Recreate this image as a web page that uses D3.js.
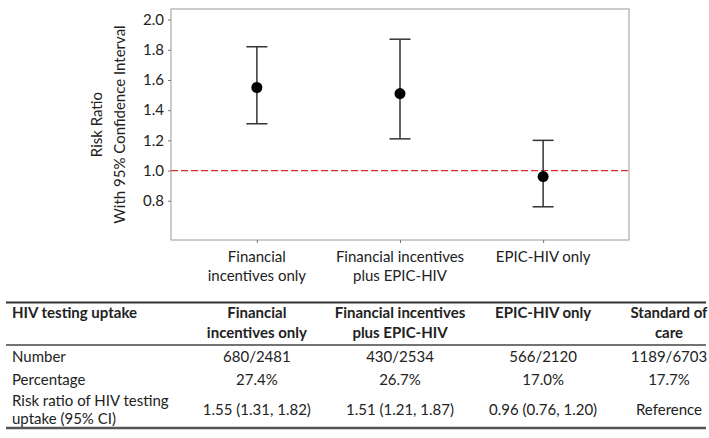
<!DOCTYPE html>
<meta charset="utf-8">
<head>
    <script type="text/javascript" src="https://cdn.jsdelivr.net/npm/d3@7"></script>
    <style>
        body { margin: 0; background: #fff; }
        svg text { font-family: Lato, "Open Sans", sans-serif; fill: #222; }
        .hdr { font-weight: bold; }
    </style>
</head>
<body>
<div id="chart"></div>
<script>

    // chart data
    let categories = ["Financial incentives only", "Financial incentives plus EPIC-HIV", "EPIC-HIV only"]
    let categoryLines = [["Financial", "incentives only"], ["Financial incentives", "plus EPIC-HIV"], ["EPIC-HIV only"]]
    let estimate = [1.55, 1.51, 0.96]
    let lower = [1.31, 1.21, 0.76]
    let upper = [1.82, 1.87, 1.20]
    let yTicks = [0.8, 1.0, 1.2, 1.4, 1.6, 1.8, 2.0]
    let refLine = 1.0

    // table data
    let tableHeaders = [["HIV testing uptake"], ["Financial", "incentives only"], ["Financial incentives", "plus EPIC-HIV"], ["EPIC-HIV only"], ["Standard of", "care"]]
    let numberRow = ["680/2481", "430/2534", "566/2120", "1189/6703"]
    let percentRow = ["27.4%", "26.7%", "17.0%", "17.7%"]
    let riskRow = ["1.55 (1.31, 1.82)", "1.51 (1.21, 1.87)", "0.96 (0.76, 1.20)", "Reference"]
    let rowLabels = [["Number"], ["Percentage"], ["Risk ratio of HIV testing", "uptake (95% CI)"]]

    let width = 709
    let height = 438

    let plot = {left: 171, right: 629, top: 9, bottom: 240}

    let svg = d3.select("#chart")
        .append("svg")
        .attr("width", width)
        .attr("height", height)

    let x = d3.scalePoint()
        .domain(categories)
        .range([plot.left, plot.right])
        .padding(0.6)

    let y = d3.scaleLinear()
        .domain([0.54, 2.07])
        .range([plot.bottom, plot.top])

    // frame
    svg.append("rect")
        .attr("x", plot.left)
        .attr("y", plot.top)
        .attr("width", plot.right - plot.left)
        .attr("height", plot.bottom - plot.top)
        .attr("fill", "none")
        .attr("stroke", "#9a9a9a")
        .attr("stroke-width", 1)

    // y axis
    let yAxis = svg.append("g")
        .attr("transform", "translate(" + plot.left + ",0)")
        .call(d3.axisLeft(y).tickValues(yTicks).tickFormat(d3.format(".1f")).tickSize(3).tickPadding(4))
    yAxis.select(".domain").remove()
    yAxis.selectAll("line").attr("stroke", "#777")
    yAxis.selectAll("text").style("font-size", "15px").attr("fill", "#222")

    // x axis ticks
    let xAxis = svg.append("g")
        .attr("transform", "translate(0," + plot.bottom + ")")
        .call(d3.axisBottom(x).tickSize(3).tickFormat(""))
    xAxis.select(".domain").remove()
    xAxis.selectAll("line").attr("stroke", "#777")

    categories.forEach(function (c, i) {
        categoryLines[i].forEach(function (line, j) {
            svg.append("text")
                .attr("x", x(c))
                .attr("y", 262 + j * 19)
                .attr("text-anchor", "middle")
                .style("font-size", "15px")
                .text(line)
        })
    })

    // y label
    let ylab = svg.append("text")
        .attr("transform", "translate(0," + ((plot.top + plot.bottom) / 2) + ") rotate(-90)")
        .attr("text-anchor", "middle")
        .style("font-size", "15px")
    ylab.append("tspan").attr("x", 0).attr("y", 102).text("Risk Ratio")
    ylab.append("tspan").attr("x", 0).attr("y", 125).text("With 95% Confidence Interval")

    // reference line
    svg.append("line")
        .attr("x1", plot.left)
        .attr("x2", plot.right)
        .attr("y1", y(refLine))
        .attr("y2", y(refLine))
        .attr("stroke", "#e0252b")
        .attr("stroke-width", 1.3)
        .attr("stroke-dasharray", "7,3")

    // error bars
    let bars = svg.append("g")
        .selectAll("g")
        .data(categories)
        .enter()
        .append("g")

    bars.append("line")
        .attr("x1", d => x(d)).attr("x2", d => x(d))
        .attr("y1", (d, i) => y(upper[i]))
        .attr("y2", (d, i) => y(lower[i]))
        .attr("stroke", "#333").attr("stroke-width", 1.5)

    bars.append("line")
        .attr("x1", d => x(d) - 10.5).attr("x2", d => x(d) + 10.5)
        .attr("y1", (d, i) => y(upper[i])).attr("y2", (d, i) => y(upper[i]))
        .attr("stroke", "#333").attr("stroke-width", 1.5)

    bars.append("line")
        .attr("x1", d => x(d) - 10.5).attr("x2", d => x(d) + 10.5)
        .attr("y1", (d, i) => y(lower[i])).attr("y2", (d, i) => y(lower[i]))
        .attr("stroke", "#333").attr("stroke-width", 1.5)

    bars.append("circle")
        .attr("cx", d => x(d))
        .attr("cy", (d, i) => y(estimate[i]))
        .attr("r", 5.5)
        .attr("fill", "#000")

    // table
    let colX = [12, x(categories[0]), x(categories[1]), x(categories[2]), 669]
    let tbl = svg.append("g")

    tbl.append("line").attr("x1", 6).attr("x2", 706).attr("y1", 302.5).attr("y2", 302.5)
        .attr("stroke", "#333").attr("stroke-width", 2)
    tbl.append("line").attr("x1", 6).attr("x2", 706).attr("y1", 345).attr("y2", 345)
        .attr("stroke", "#444").attr("stroke-width", 1.5)
    tbl.append("line").attr("x1", 6).attr("x2", 706).attr("y1", 428).attr("y2", 428)
        .attr("stroke", "#555").attr("stroke-width", 2.5)

    tableHeaders.forEach(function (h, i) {
        h.forEach(function (line, j) {
            tbl.append("text")
                .attr("class", "hdr")
                .attr("x", colX[i])
                .attr("y", 318 + j * 20)
                .attr("text-anchor", i === 0 ? "start" : "middle")
                .style("font-size", "15px")
                .text(line)
        })
    })

    let rows = [numberRow, percentRow, riskRow]
    let rowY = [362, 384.5, 415]

    rows.forEach(function (r, k) {
        rowLabels[k].forEach(function (line, j) {
            let n = rowLabels[k].length
            tbl.append("text")
                .attr("x", colX[0])
                .attr("y", n === 1 ? rowY[k] : 406 + j * 18)
                .style("font-size", "15px")
                .text(line)
        })
        r.forEach(function (v, i) {
            tbl.append("text")
                .attr("x", colX[i + 1])
                .attr("y", rowY[k])
                .attr("text-anchor", "middle")
                .style("font-size", "15px")
                .text(v)
        })
    })

</script>
</body>
